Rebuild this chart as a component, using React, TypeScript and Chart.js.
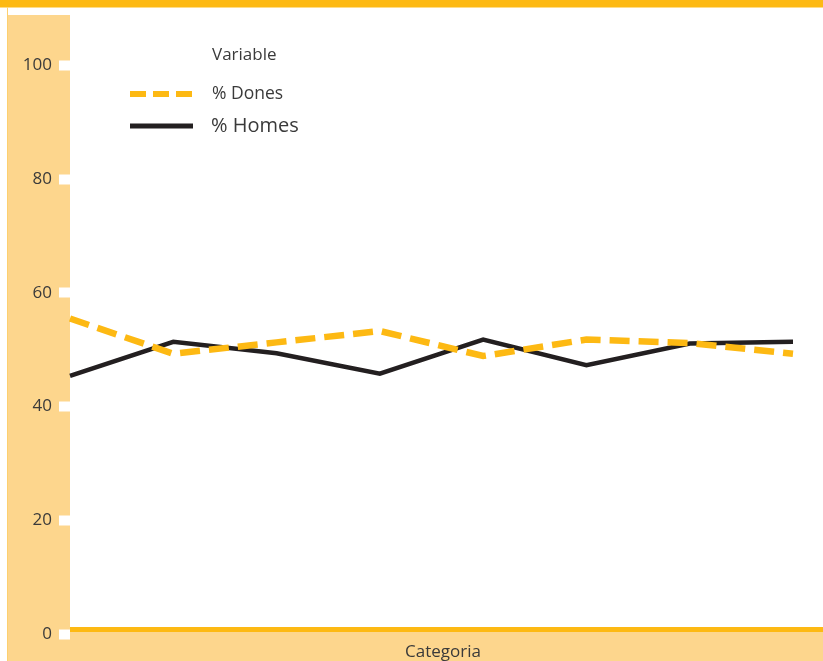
import React, { useEffect, useRef } from "react";
import { Chart, registerables } from "chart.js";

Chart.register(...registerables);

const categories = ["1", "2", "3", "4", "5", "6", "7", "8"];
const donesValues = [55.5, 49.3, 51.3, 53.3, 48.9, 51.8, 51.2, 49.3];
const homesValues = [45.4, 51.4, 49.4, 45.8, 51.8, 47.3, 51.1, 51.4];
const yTicks = [0, 20, 40, 60, 80, 100];
const legendTitle = "Variable";
const seriesNames = ["% Dones", "% Homes"];
const xTitle = "Categoria";

const ORANGE = "#FDB913";
const LIGHT = "#FDD68D";
const BLACK = "#231F20";
const TEXT = "#3a3a3a";
const FONT = "'Open Sans', 'Noto Sans', sans-serif";

const decorPlugin = {
  id: "decor",
  beforeDraw(chart: any) {
    const { ctx, width, height, chartArea } = chart;
    ctx.save();
    ctx.fillStyle = "#ffffff";
    ctx.fillRect(0, 0, width, height);
    ctx.fillStyle = ORANGE;
    ctx.fillRect(0, 0, width, 7.5);
    ctx.fillStyle = LIGHT;
    ctx.fillRect(8, 15, chartArea.left - 8, height - 15);
    ctx.fillRect(8, 632, width - 8, height - 632);
    ctx.fillStyle = "#FDD070";
    ctx.fillRect(7, 7.5, 1, height - 7.5);
    ctx.fillStyle = ORANGE;
    ctx.fillRect(chartArea.left, 627, width - chartArea.left, 5);
    ctx.restore();
  },
  afterDraw(chart: any) {
    const { ctx } = chart;
    ctx.save();
    ctx.fillStyle = TEXT;
    ctx.font = `17px ${FONT}`;
    ctx.textAlign = "center";
    ctx.textBaseline = "middle";
    ctx.fillText(xTitle, 443, 652);
    ctx.textAlign = "left";
    ctx.font = `17px ${FONT}`;
    ctx.fillText(legendTitle, 212, 55);
    ctx.font = `17.5px ${FONT}`;
    ctx.fillText(seriesNames[0], 212, 94);
    ctx.font = `20px ${FONT}`;
    ctx.fillText(seriesNames[1], 211, 126);
    ctx.lineCap = "butt";
    ctx.strokeStyle = ORANGE;
    ctx.lineWidth = 6;
    ctx.setLineDash([16, 7]);
    ctx.beginPath();
    ctx.moveTo(130, 94);
    ctx.lineTo(193, 94);
    ctx.stroke();
    ctx.setLineDash([]);
    ctx.strokeStyle = BLACK;
    ctx.lineWidth = 5;
    ctx.beginPath();
    ctx.moveTo(130, 126);
    ctx.lineTo(193, 126);
    ctx.stroke();
    ctx.restore();
  },
};

export default function App() {
  const ref = useRef<HTMLCanvasElement | null>(null);
  useEffect(() => {
    if (!ref.current) return;
    const top = 15;
    const bottom = 640;
    const pxPerUnit = 5.705;
    const zeroY = 634;
    const yMax = (zeroY - top) / pxPerUnit;
    const yMin = (zeroY - bottom) / pxPerUnit;
    const chart = new Chart(ref.current, {
      type: "line",
      data: {
        labels: categories,
        datasets: [
          {
            label: seriesNames[0],
            data: donesValues,
            borderColor: ORANGE,
            borderWidth: 6.5,
            borderDash: [20, 9],
            pointRadius: 0,
            tension: 0,
            fill: false,
          },
          {
            label: seriesNames[1],
            data: homesValues,
            borderColor: BLACK,
            borderWidth: 4.5,
            pointRadius: 0,
            tension: 0,
            fill: false,
          },
        ],
      },
      options: {
        animation: false,
        responsive: false,
        maintainAspectRatio: false,
        layout: { padding: { left: 0, right: 30, top: top, bottom: 661 - bottom } },
        plugins: { legend: { display: false }, tooltip: { enabled: false } },
        scales: {
          x: { display: false, offset: false },
          y: {
            min: yMin,
            max: yMax,
            afterFit: (axis: any) => {
              axis.width = 70;
            },
            afterBuildTicks: (axis: any) => {
              axis.ticks = yTicks.map((v) => ({ value: v }));
            },
            border: { display: false },
            grid: {
              drawOnChartArea: false,
              drawTicks: true,
              tickLength: 11,
              tickWidth: 10,
              tickColor: "#ffffff",
            },
            ticks: {
              padding: 7,
              color: TEXT,
              font: { family: FONT, size: 17 },
            },
          },
        },
      },
      plugins: [decorPlugin],
    });
    return () => chart.destroy();
  }, []);
  return (
    <div style={{ position: "absolute", left: 0, top: 0, width: 823, height: 661 }}>
      <canvas ref={ref} width={823} height={661} style={{ display: "block" }} />
    </div>
  );
}
